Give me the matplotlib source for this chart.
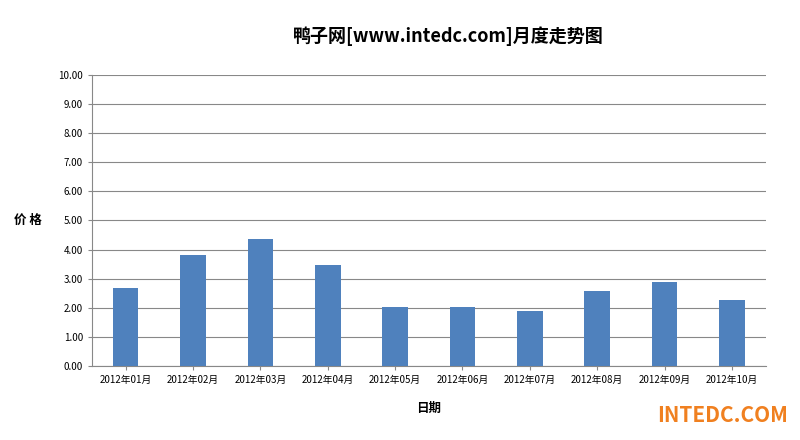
import matplotlib
matplotlib.use("Agg")
import matplotlib.pyplot as plt

plt.rcParams['font.family'] = ['Noto Sans CJK SC', 'DejaVu Sans']

months = ["2012年01月","2012年02月","2012年03月","2012年04月","2012年05月",
          "2012年06月","2012年07月","2012年08月","2012年09月","2012年10月"]
prices = [2.68, 3.81, 4.36, 3.47, 2.02, 2.02, 1.89, 2.58, 2.89, 2.28]
yticks = [i for i in range(11)]

fig = plt.figure(figsize=(8, 4.4), dpi=100)
ax = fig.add_axes([0.115, 0.168, 0.842, 0.662])
x = list(range(len(months)))
ax.bar(x, prices, width=0.38, color='#4f81bd', zorder=3)
ax.set_xlim(-0.5, len(months) - 0.5)
ax.set_ylim(0, 10)
ax.set_yticks(yticks)
ax.set_yticklabels([f"{v:.2f}" for v in yticks], fontsize=7)
ax.set_xticks(x)
ax.set_xticklabels(months, fontsize=7)
ax.grid(axis='y', color='#888888', linewidth=0.8, zorder=0)
for s in ['top', 'right']:
    ax.spines[s].set_visible(False)
ax.spines['left'].set_color('#888888')
ax.spines['bottom'].set_color('#888888')
ax.tick_params(axis='both', length=3, color='#888888')
ax.set_xlabel("日期", fontsize=9, fontweight='bold', labelpad=12)
ax.set_ylabel("价 格", fontsize=9, fontweight='bold', rotation=0, labelpad=22, va='center')
fig.text(0.56, 0.905, "鸭子网[www.intedc.com]月度走势图", ha='center', fontsize=13, fontweight='bold')
fig.text(0.985, 0.04, "INTEDC.COM", ha='right', fontsize=15, fontweight='bold', color='#f08020')
fig.savefig("out.png")
